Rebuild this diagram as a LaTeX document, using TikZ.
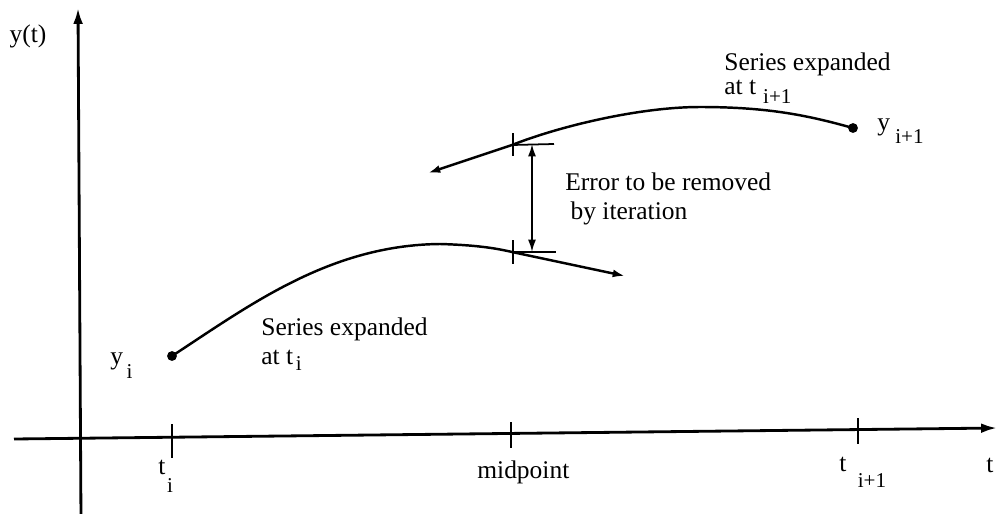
\documentclass[tikz,border=0pt]{standalone}
\usepackage{fontspec}
\setmainfont{Liberation Serif}
\usetikzlibrary{arrows.meta,positioning,calc}
% base letter, subscript, drop, gap
\newcommand{\lowsub}[4]{#1\hspace{#4}\raisebox{-#3}{\fontsize{12}{13}\selectfont #2}}

\begin{document}
\begin{tikzpicture}[x=0.02cm,y=-0.02cm,
    lbl/.style={font=\fontsize{14.5}{17}\selectfont, inner sep=0pt},
    axisline/.style={line width=1.6pt,-{Latex[length=9pt,width=5.5pt]}},
    curveline/.style={line width=1.4pt,-{Latex[length=7pt,width=4.5pt]}},
    markline/.style={line width=1pt}]
    \useasboundingbox (0,0) rectangle (998,514);
    % axes
    \coordinate (xstart) at (14,439);
    \coordinate (xend) at (997,428);
    \coordinate (ystart) at (81,520);
    \coordinate (yend) at (78,8);
    \draw[axisline] (xstart) -- (xend);
    \draw[axisline] (ystart) -- (yend);
    \node[lbl] (ylabel) at (28,36) {y(t)};
    \node[lbl, anchor=base west] (tlabel) at (986,472) {t};
    % ticks on the t axis
    \foreach \xx/\ya/\yb/\nm in {172/424/458/ti,511/422/448/mid,858/418/444/tj} {
        \coordinate (tick\nm) at (\xx,\ya);
        \draw[markline] (tick\nm) -- (\xx,\yb);
    }
    \node[lbl, anchor=base west] (lti) at (158,474) {\lowsub{t}{i}{10.5pt}{1pt}};
    \node[lbl, anchor=base west] (lmid) at (477,478) {midpoint};
    \node[lbl, anchor=base west] (ltj) at (839,471) {\lowsub{t}{i+1}{9.5pt}{6.5pt}};
    % series at t_i
    \coordinate (yi) at (172,356);
    \coordinate (lowmid) at (512,252);
    \coordinate (lowend) at (625,276);
    \draw[curveline] (yi) .. controls (250,305) and (330,245) .. (440,244)
        .. controls (475,245) and (495,248) .. (lowmid) -- (lowend);
    \fill (yi) circle (2.8pt);
    \node[lbl, anchor=base west] (yilbl) at (110,364) {\lowsub{y}{i}{8pt}{2pt}};
    \node[lbl, anchor=north west, align=left] (serlow) at (261,317)
        {Series expanded\\at \lowsub{t}{i}{3pt}{1.5pt}};
    % series at t_{i+1}
    \coordinate (yj) at (853,128);
    \coordinate (upmid) at (512,145);
    \coordinate (upend) at (428,173);
    \draw[curveline] (yj) .. controls (810,116) and (770,107) .. (700,107)
        .. controls (640,107) and (560,126) .. (upmid) -- (upend);
    \fill (yj) circle (2.8pt);
    \node[lbl, anchor=base west] (yjlbl) at (877,130) {\lowsub{y}{i+1}{7.5pt}{3pt}};
    \node[lbl, font=\fontsize{14.5}{14.2}\selectfont, anchor=north west, align=left] (serup) at (724,52)
        {Series expanded\\at \lowsub{t}{i+1}{5pt}{4pt}};
    % marks at the midpoint
    \draw[markline] (513,133) -- (513,156);
    \draw[markline] (513,240) -- (513,264);
    \coordinate (errtop) at (532,144);
    \coordinate (errbot) at (532,252);
    \draw[markline] (upmid) -- (554,144);
    \draw[markline] (lowmid) -- (556,252);
    \draw[line width=1pt,{Latex[length=7pt,width=4.5pt]}-{Latex[length=7pt,width=4.5pt]}] (errtop) -- (errbot);
    \node[lbl, anchor=north west, align=left] (errlbl) at (565,172)
        {Error to be removed\\\hspace{3pt}by iteration};
\end{tikzpicture}
\end{document}
